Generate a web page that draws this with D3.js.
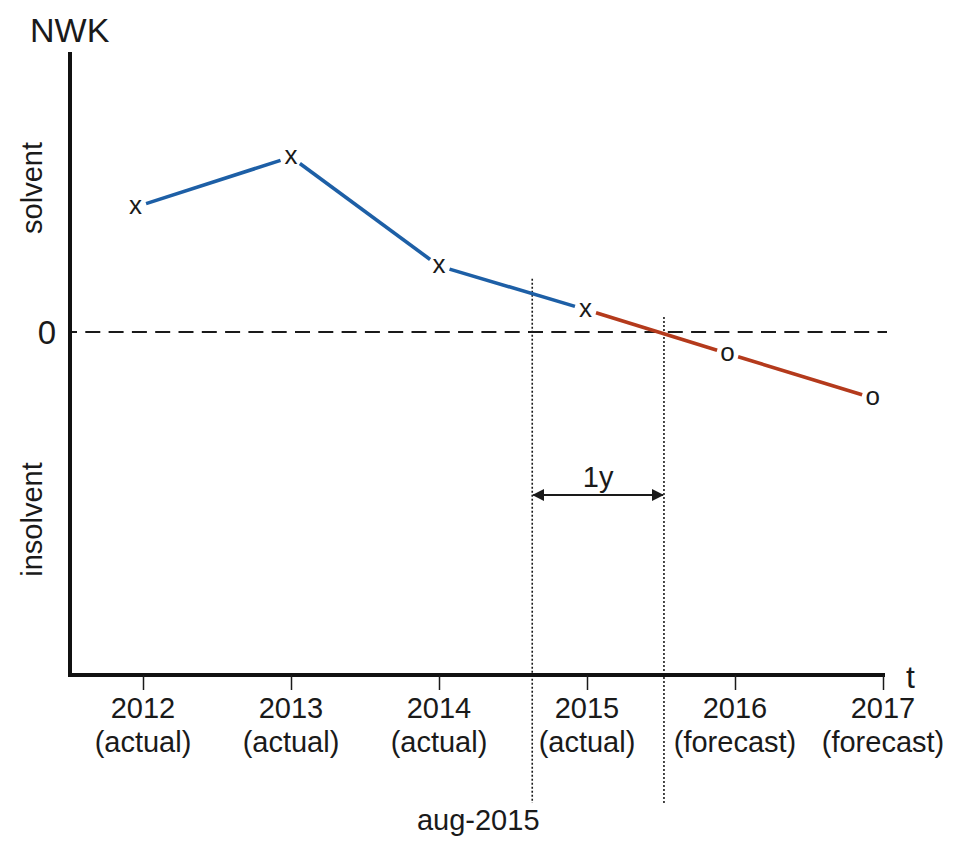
<!DOCTYPE html>
<html><head><meta charset="utf-8">
<script src="https://cdn.jsdelivr.net/npm/d3@7"></script>
<style>body{margin:0;background:#fff}</style></head>
<body><svg id="c" width="960" height="851"></svg>
<script>
// ---- data ----
const years = [2012, 2013, 2014, 2015, 2016, 2017];
const periodLabels = ["(actual)", "(actual)", "(actual)", "(actual)", "(forecast)", "(forecast)"];
const pointTimes = [2011.95, 2013.0, 2014.0, 2014.99, 2015.95, 2016.93];
const nwkValues = [1.25, 1.75, 0.66, 0.225, -0.215, -0.66];
const pointKinds = ["actual", "actual", "actual", "actual", "forecast", "forecast"];
const markerGlyphs = ["x", "x", "x", "x", "o", "o"];
const dateMarkers = [2014.63, 2015.52];
const dateMarkerLabel = "aug-2015";
const spanLabel = "1y";
const spanValue = -1.63;
const yAxisTitle = "NWK";
const xAxisTitle = "t";
const zeroLabel = "0";
const regionLabels = [{text: "solvent", value: 1.44}, {text: "insolvent", value: -1.875}];

// ---- layout ----
const W = 960, H = 851;
const FONT = "'Liberation Sans', Arial, Helvetica, sans-serif";
const INK = "#1a1a1a";
const BLUE = "#1d5fa6", RED = "#b43a1c";
const axisX = 70, axisTop = 52, axisY = 675, axisRight = 885;

const svg = d3.select("#c");
const x = d3.scaleLinear().domain([2012, 2017]).range([143, 883]);
const y = d3.scaleLinear().domain([-3.43, 2.80]).range([axisY, axisTop]);

const pts = pointTimes.map((t, i) => ({t, v: nwkValues[i], kind: pointKinds[i], glyph: markerGlyphs[i]}));

// zero dashed line
svg.append("line")
  .attr("x1", axisX).attr("x2", axisRight + 2)
  .attr("y1", y(0)).attr("y2", y(0))
  .attr("stroke", INK).attr("stroke-width", 1.8)
  .attr("stroke-dasharray", "15,8.3").attr("stroke-dashoffset", 8);

// helper: y value of the series line at time t
function lineValueAt(t) {
  for (let i = 0; i < pts.length - 1; i++) {
    const a = pts[i], b = pts[i + 1];
    if (t >= a.t && t <= b.t) return a.v + (b.v - a.v) * (t - a.t) / (b.t - a.t);
  }
  return 0;
}

// vertical dotted lines
const dottedBottom = 803;
dateMarkers.forEach(t => {
  const top = Math.min(y(lineValueAt(t)), y(0)) - 15;
  svg.append("line")
    .attr("x1", x(t)).attr("x2", x(t))
    .attr("y1", top).attr("y2", dottedBottom)
    .attr("stroke", INK).attr("stroke-width", 1.6)
    .attr("stroke-dasharray", "2,2");
});

// series segments (trimmed near markers)
const gap = 11;
for (let i = 0; i < pts.length - 1; i++) {
  const a = pts[i], b = pts[i + 1];
  const x1 = x(a.t), y1 = y(a.v), x2 = x(b.t), y2 = y(b.v);
  const len = Math.hypot(x2 - x1, y2 - y1);
  const ux = (x2 - x1) / len, uy = (y2 - y1) / len;
  svg.append("line")
    .attr("x1", x1 + ux * gap).attr("y1", y1 + uy * gap)
    .attr("x2", x2 - ux * gap).attr("y2", y2 - uy * gap)
    .attr("stroke", b.kind === "forecast" ? RED : BLUE)
    .attr("stroke-width", 3.6).attr("stroke-linecap", "butt");
}

// markers
svg.selectAll("text.mk").data(pts).enter().append("text")
  .attr("class", "mk")
  .attr("x", d => x(d.t)).attr("y", d => y(d.v))
  .attr("dy", "0.27em")
  .attr("text-anchor", "middle")
  .attr("font-family", FONT).attr("font-size", 26).attr("fill", INK)
  .text(d => d.glyph);

// axes frame
svg.append("line").attr("x1", axisX).attr("x2", axisX).attr("y1", axisTop).attr("y2", axisY + 2)
  .attr("stroke", "#111").attr("stroke-width", 4);
svg.append("line").attr("x1", axisX - 2).attr("x2", axisRight).attr("y1", axisY).attr("y2", axisY)
  .attr("stroke", "#111").attr("stroke-width", 4);

// x ticks via d3 axis
const xAxis = d3.axisBottom(x).tickValues(years).tickSize(15).tickSizeOuter(0).tickFormat("");
const gx = svg.append("g").attr("transform", `translate(0,${axisY})`).call(xAxis);
gx.select(".domain").remove();
gx.selectAll(".tick line").attr("stroke", INK).attr("stroke-width", 1.5);

// x tick labels (two lines)
const lab = svg.selectAll("text.xl").data(years).enter().append("text")
  .attr("class", "xl")
  .attr("text-anchor", "middle")
  .attr("font-family", FONT).attr("font-size", 29).attr("fill", INK);
lab.append("tspan").attr("x", d => x(d)).attr("y", 718).text(d => d);
lab.append("tspan").attr("x", d => x(d)).attr("y", 752).text((d, i) => periodLabels[i]);

// date marker label
svg.append("text").attr("x", x(dateMarkers[0]) - 54).attr("y", 830)
  .attr("text-anchor", "middle")
  .attr("font-family", FONT).attr("font-size", 29).attr("fill", INK)
  .text(dateMarkerLabel);

// 1y span arrow
const defs = svg.append("defs");
defs.append("marker").attr("id", "ah").attr("viewBox", "0 0 12 12")
  .attr("refX", 11).attr("refY", 6).attr("markerWidth", 12).attr("markerHeight", 12)
  .attr("markerUnits", "userSpaceOnUse").attr("orient", "auto-start-reverse")
  .append("path").attr("d", "M0,0 L12,6 L0,12 Z").attr("fill", INK);
svg.append("line")
  .attr("x1", x(dateMarkers[0]) + 1).attr("x2", x(dateMarkers[1]) - 1)
  .attr("y1", y(spanValue)).attr("y2", y(spanValue))
  .attr("stroke", INK).attr("stroke-width", 2)
  .attr("marker-start", "url(#ah)").attr("marker-end", "url(#ah)");
svg.append("text").attr("x", (x(dateMarkers[0]) + x(dateMarkers[1])) / 2).attr("y", y(spanValue) - 8)
  .attr("text-anchor", "middle")
  .attr("font-family", FONT).attr("font-size", 29).attr("fill", INK)
  .text(spanLabel);

// axis titles
svg.append("text").attr("x", 30).attr("y", 42)
  .attr("font-family", FONT).attr("font-size", 34).attr("fill", INK).text(yAxisTitle);
svg.append("text").attr("x", 906).attr("y", 688)
  .attr("font-family", FONT).attr("font-size", 32).attr("fill", INK).text(xAxisTitle);
svg.append("text").attr("x", 56).attr("y", y(0)).attr("dy", "0.36em")
  .attr("text-anchor", "end")
  .attr("font-family", FONT).attr("font-size", 33).attr("fill", INK).text(zeroLabel);

// region labels (rotated)
regionLabels.forEach(r => {
  svg.append("text")
    .attr("transform", `translate(42,${y(r.value)}) rotate(-90)`)
    .attr("text-anchor", "middle")
    .attr("font-family", FONT).attr("font-size", 29).attr("fill", INK)
    .text(r.text);
});
</script>
</body></html>
